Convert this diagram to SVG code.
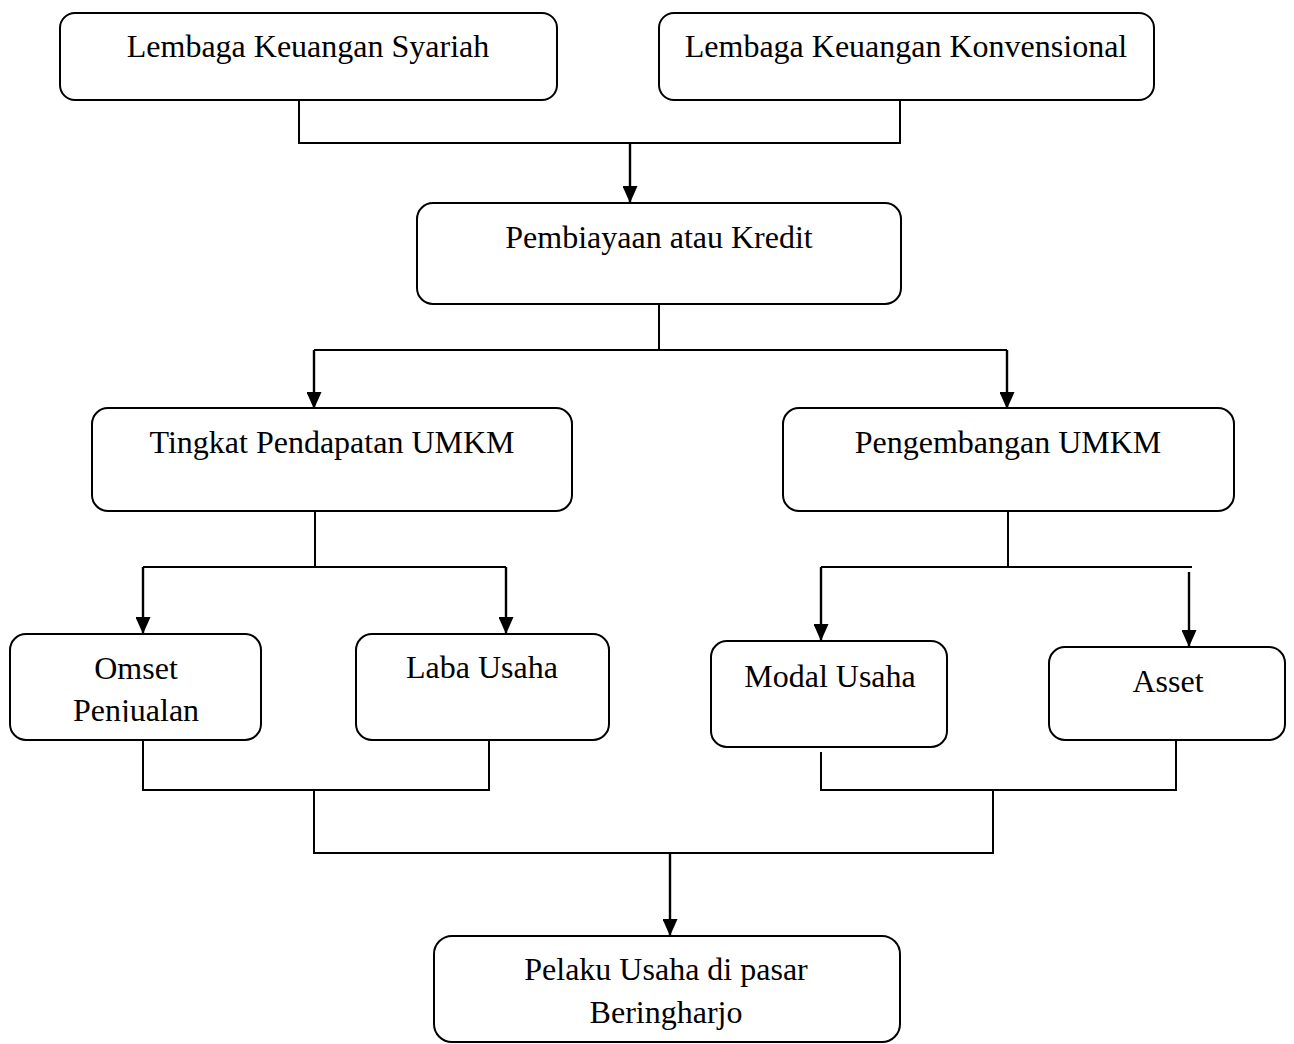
<svg xmlns="http://www.w3.org/2000/svg" width="1294" height="1044" viewBox="0 0 1294 1044">
<style>
.box{fill:#fff;stroke:#000;stroke-width:2}
.t{font-family:"Liberation Serif","Times New Roman",serif;font-size:32px;fill:#000;text-anchor:middle}
.ln{fill:none;stroke:#000;stroke-width:2}
.ar{fill:none;stroke:#000;stroke-width:2.4;marker-end:url(#ah)}
</style>
<defs>
<marker id="ah" markerUnits="userSpaceOnUse" markerWidth="17" markerHeight="15" viewBox="0 0 17 15" refX="17" refY="7.5" orient="auto">
<path d="M0,0 L17,7.5 L0,15 z" fill="#000"/>
</marker>
<clipPath id="clipOmset"><rect x="10" y="634" width="252" height="88"/></clipPath>
</defs>
<rect width="1294" height="1044" fill="#fff"/>
<g id="connectors">
<path class="ln" d="M299,100 V143 H900 V100"/>
<path class="ar" d="M630,143 V203"/>
<path class="ln" d="M659,304 V350 M314,350 H1007"/>
<path class="ar" d="M314,350 V409"/>
<path class="ar" d="M1007,350 V409"/>
<path class="ln" d="M315,511 V567 M143,567 H506"/>
<path class="ar" d="M143,567 V634"/>
<path class="ar" d="M506,567 V634"/>
<path class="ln" d="M1008,511 V567 M821,567 H1192"/>
<path class="ar" d="M821,567 V641"/>
<path class="ar" d="M1189,572 V647"/>
<path class="ln" d="M143,740 V790 H489 V740 M314,790 V853 H993 V790"/>
<path class="ln" d="M821,752 V790 H1176 V740"/>
<path class="ar" d="M670,853 V936"/>
</g>
<g id="n1"><rect class="box" x="60" y="13" width="497" height="87" rx="15"/><text class="t" x="308" y="57">Lembaga Keuangan Syariah</text></g>
<g id="n2"><rect class="box" x="659" y="13" width="495" height="87" rx="15"/><text class="t" x="906" y="57">Lembaga Keuangan Konvensional</text></g>
<g id="n3"><rect class="box" x="417" y="203" width="484" height="101" rx="16"/><text class="t" x="659" y="248">Pembiayaan atau Kredit</text></g>
<g id="n4"><rect class="box" x="92" y="408" width="480" height="103" rx="16"/><text class="t" x="332" y="453">Tingkat Pendapatan UMKM</text></g>
<g id="n5"><rect class="box" x="783" y="408" width="451" height="103" rx="16"/><text class="t" x="1008" y="453">Pengembangan UMKM</text></g>
<g id="n6"><rect class="box" x="10" y="634" width="251" height="106" rx="16"/><text class="t" x="136" y="679">Omset</text><text class="t" x="136" y="721" clip-path="url(#clipOmset)">Penjualan</text></g>
<g id="n7"><rect class="box" x="356" y="634" width="253" height="106" rx="16"/><text class="t" x="482" y="678">Laba Usaha</text></g>
<g id="n8"><rect class="box" x="711" y="641" width="236" height="106" rx="16"/><text class="t" x="830" y="687">Modal Usaha</text></g>
<g id="n9"><rect class="box" x="1049" y="647" width="236" height="93" rx="16"/><text class="t" x="1168" y="692">Asset</text></g>
<g id="n10"><rect class="box" x="434" y="936" width="466" height="106" rx="18"/><text class="t" x="666" y="980">Pelaku Usaha di pasar</text><text class="t" x="666" y="1023">Beringharjo</text></g>
</svg>
